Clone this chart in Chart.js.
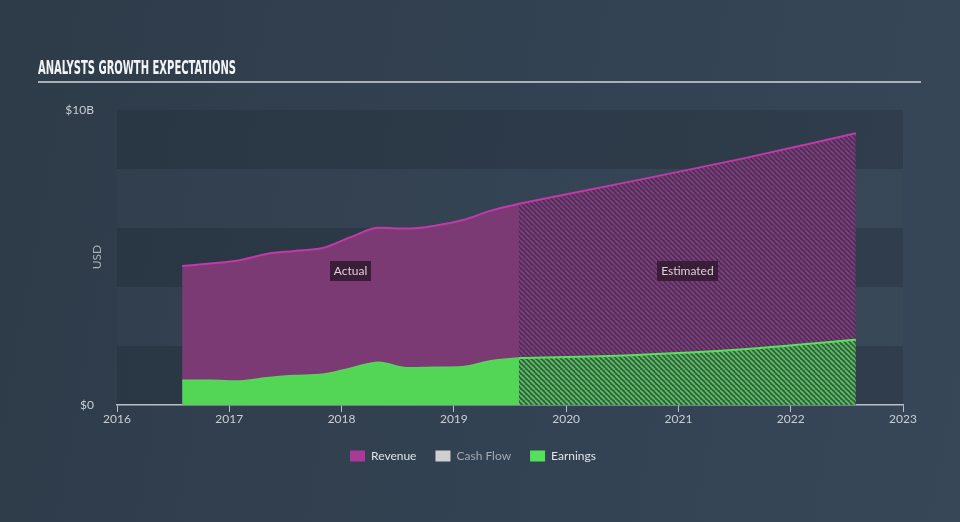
<!DOCTYPE html>
<html>
<head>
<meta charset="utf-8">
<script src="https://cdn.jsdelivr.net/npm/chart.js@4.4.0/dist/chart.umd.min.js"></script>
<style>
  html, body { margin: 0; padding: 0; }
  body {
    width: 960px; height: 522px; overflow: hidden;
    background: linear-gradient(100deg, #2e3b49 0%, #334252 55%, #374757 100%);
  }
  #wrap { position: relative; width: 960px; height: 522px; }
</style>
</head>
<body>
<div id="wrap"><canvas id="growthChart" width="960" height="522"></canvas></div>
<script>
// values in billions of USD, x positions in fractional years
const actualYears = [2016.58, 2016.83, 2017.08, 2017.33, 2017.58, 2017.83, 2018.08, 2018.33, 2018.58, 2018.83, 2019.08, 2019.33, 2019.58];
const revenueActual = [4.71, 4.80, 4.90, 5.12, 5.22, 5.32, 5.69, 6.01, 5.98, 6.08, 6.27, 6.59, 6.82];
const earningsActual = [0.84, 0.84, 0.81, 0.92, 1.00, 1.04, 1.25, 1.45, 1.26, 1.28, 1.30, 1.50, 1.59];

const estimateYears = [2019.58, 2020.58, 2021.58, 2022.58];
const revenueEstimate = [6.82, 7.58, 8.36, 9.21];
const earningsEstimate = [1.59, 1.69, 1.89, 2.21];

const xTicks = [2016, 2017, 2018, 2019, 2020, 2021, 2022, 2023];
const yTicks = [0, 2, 4, 6, 8, 10];
const yTickLabels = ['$0', '', '', '', '', '$10B'];

const legendNames = ['Revenue', 'Cash Flow', 'Earnings'];
const legendColors = ['#a93a98', '#cfcfcf', '#55e05a'];
const legendTextColors = ['#dfe3e8', '#a3aab3', '#dfe3e8'];

const tickColor = '#c9ced4';
const axisColor = '#b9c0c8';
const fontFamily = 'Lato, "Open Sans", sans-serif';

function toPoints(xs, ys) {
    return xs.map(function(x, i) { return {x: x, y: ys[i]}; });
}

function makeHatch(base, stripe) {
    const size = 5;
    const c = document.createElement('canvas');
    c.width = size;
    c.height = size;
    const g = c.getContext('2d');
    g.fillStyle = base;
    g.fillRect(0, 0, size, size);
    g.strokeStyle = stripe;
    g.lineWidth = 1.7;
    g.beginPath();
    [-size, 0, size].forEach(function(k) {
        g.moveTo(k, 0);
        g.lineTo(k + size, size);
    });
    g.stroke();
    return g.createPattern(c, 'repeat');
}

const decorPlugin = {
    id: 'decor',
    beforeDraw(chart) {
        const ctx = chart.ctx;
        const area = chart.chartArea;
        const y = chart.scales.y;
        ctx.save();

        // title + rule
        const title = 'ANALYSTS GROWTH EXPECTATIONS';
        ctx.font = 'bold 20px "Liberation Sans Narrow", "DejaVu Sans Condensed", sans-serif';
        const w = ctx.measureText(title).width;
        ctx.translate(38, 74);
        ctx.scale(198 / w, 1);
        ctx.fillStyle = '#f2f4f6';
        ctx.textBaseline = 'alphabetic';
        ctx.fillText(title, 0, 0);
        ctx.setTransform(1, 0, 0, 1, 0, 0);
        ctx.fillStyle = '#a9b0b7';
        ctx.fillRect(38, 81, 883, 2);

        // horizontal bands
        for (let i = 0; i < y.ticks.length - 1; i++) {
            const bottom = y.getPixelForValue(y.ticks[i].value);
            const top = y.getPixelForValue(y.ticks[i + 1].value);
            ctx.fillStyle = i % 2 === 0 ? 'rgba(30, 40, 52, 0.28)' : 'rgba(255, 255, 255, 0.012)';
            ctx.fillRect(area.left, top, area.right - area.left, bottom - top);
        }

        // axis title
        ctx.translate(97, 257);
        ctx.rotate(-Math.PI / 2);
        ctx.font = '12px ' + fontFamily;
        ctx.fillStyle = '#aab2ba';
        ctx.textAlign = 'center';
        ctx.textBaseline = 'middle';
        ctx.fillText('USD', 0, 0);
        ctx.restore();
    },
    afterDatasetsDraw(chart) {
        const ctx = chart.ctx;
        const x = chart.scales.x;
        const y = chart.scales.y;
        const tags = [
            {text: 'Actual', from: actualYears[0], to: actualYears[actualYears.length - 1]},
            {text: 'Estimated', from: estimateYears[0], to: estimateYears[estimateYears.length - 1]}
        ];
        ctx.save();
        ctx.font = '12px ' + fontFamily;
        ctx.textAlign = 'center';
        ctx.textBaseline = 'middle';
        tags.forEach(function(t) {
            const cx = x.getPixelForValue((t.from + t.to) / 2);
            const cy = y.getPixelForValue(4.55);
            const tw = ctx.measureText(t.text).width + 8;
            ctx.fillStyle = '#3a1d37';
            ctx.fillRect(Math.round(cx - tw / 2), Math.round(cy - 10), Math.round(tw), 20);
            ctx.fillStyle = '#ddd2dc';
            ctx.fillText(t.text, cx, cy + 0.5);
        });
        ctx.restore();
    }
};

document.addEventListener('DOMContentLoaded', function() {
    const ctx = document.getElementById('growthChart').getContext('2d');

    new Chart(ctx, {
        type: 'line',
        data: {
            datasets: [
                {
                    label: 'Earnings',
                    data: toPoints(actualYears, earningsActual),
                    borderColor: '#55d857',
                    backgroundColor: '#53d655',
                    borderWidth: 1.5,
                    fill: 'origin',
                    order: 1
                },
                {
                    label: 'Earnings estimate',
                    data: toPoints(estimateYears, earningsEstimate),
                    borderColor: '#5be15d',
                    backgroundColor: makeHatch('#3c5a4a', '#52c956'),
                    borderWidth: 2,
                    fill: 'origin',
                    order: 1
                },
                {
                    label: 'Revenue',
                    data: toPoints(actualYears, revenueActual),
                    borderColor: '#c23aa8',
                    backgroundColor: '#7b3a74',
                    borderWidth: 2,
                    fill: 'origin',
                    order: 3
                },
                {
                    label: 'Revenue estimate',
                    data: toPoints(estimateYears, revenueEstimate),
                    borderColor: '#c23aa8',
                    backgroundColor: makeHatch('#473454', '#8a3a82'),
                    borderWidth: 2,
                    fill: 'origin',
                    order: 3
                }
            ]
        },
        options: {
            responsive: false,
            animation: false,
            layout: {
                padding: { left: 0, right: 14, top: 110, bottom: 50 }
            },
            elements: {
                point: { radius: 0 },
                line: { cubicInterpolationMode: 'monotone' }
            },
            plugins: {
                tooltip: { enabled: false },
                legend: {
                    position: 'bottom',
                    labels: {
                        boxWidth: 15,
                        boxHeight: 11,
                        padding: 19,
                        font: { family: fontFamily, size: 12 },
                        generateLabels: function() {
                            return legendNames.map(function(name, i) {
                                return {
                                    text: name,
                                    fillStyle: legendColors[i],
                                    strokeStyle: legendColors[i],
                                    lineWidth: 0,
                                    fontColor: legendTextColors[i],
                                    hidden: false,
                                    index: i
                                };
                            });
                        }
                    },
                    onClick: function() {}
                }
            },
            scales: {
                x: {
                    type: 'linear',
                    min: 2016,
                    max: 2023,
                    afterBuildTicks: function(scale) {
                        scale.ticks = xTicks.map(function(v) { return {value: v}; });
                    },
                    ticks: {
                        color: tickColor,
                        font: { family: fontFamily, size: 12 },
                        padding: 0,
                        maxRotation: 0,
                        autoSkip: false,
                        callback: function(v) { return String(v); }
                    },
                    grid: {
                        display: true,
                        drawOnChartArea: false,
                        drawTicks: true,
                        tickLength: 7,
                        color: axisColor,
                        lineWidth: 1
                    },
                    border: { display: true, color: axisColor, width: 1.5 },
                    afterFit: function(scale) { scale.height = 26; }
                },
                y: {
                    min: 0,
                    max: 10,
                    afterBuildTicks: function(scale) {
                        scale.ticks = yTicks.map(function(v) { return {value: v}; });
                    },
                    ticks: {
                        color: tickColor,
                        font: { family: fontFamily, size: 12 },
                        padding: 15,
                        callback: function(v) { return yTickLabels[yTicks.indexOf(v)]; }
                    },
                    grid: { display: false },
                    border: { display: false },
                    afterFit: function(scale) { scale.width = 117; }
                },
                yRight: {
                    position: 'right',
                    display: true,
                    ticks: { display: false },
                    grid: { display: false },
                    border: { display: false },
                    afterFit: function(scale) { scale.width = 43; }
                }
            }
        },
        plugins: [decorPlugin]
    });
});
</script>
</body>
</html>
